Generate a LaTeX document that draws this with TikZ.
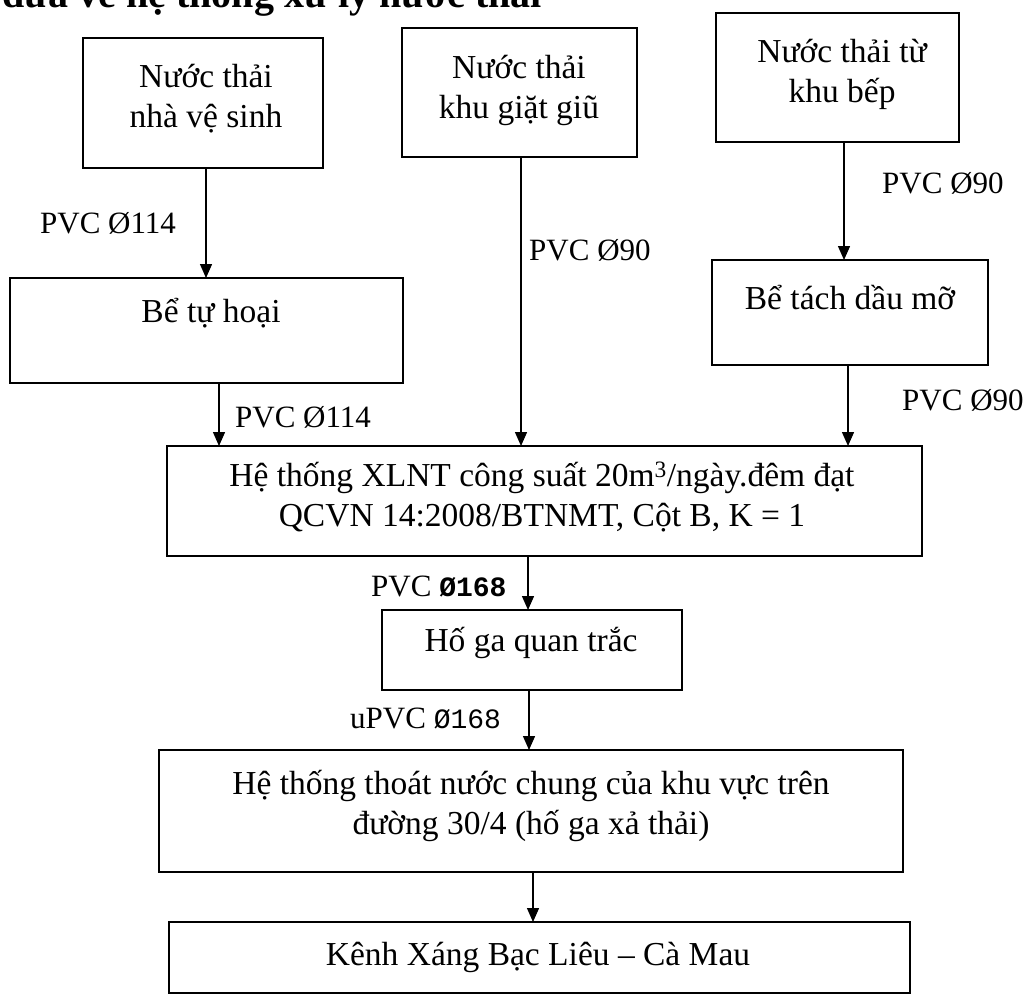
\documentclass[tikz,border=0pt]{standalone}
\usepackage{fontspec}
\setmainfont{Liberation Serif}
\newfontfamily\monof{Liberation Mono}
\usetikzlibrary{arrows.meta}
\begin{document}
\begin{tikzpicture}[x=1pt,y=-1pt,
  box/.style={draw, line width=2.2pt, inner sep=0pt, outer sep=0pt},
  txt/.style={font=\fontsize{33.5}{40}\selectfont, align=center, inner sep=0pt},
  lbl/.style={font=\fontsize{31}{36}\selectfont, inner sep=0pt, anchor=west},
  flow/.style={line width=1.4pt, -{Triangle[length=14pt,width=12pt]}}]
\useasboundingbox (0,0) rectangle (1024,1001);
\clip (0,0) rectangle (1024,1001);
\node[anchor=base west, inner sep=0pt, font=\fontsize{40}{44}\selectfont\bfseries] (head) at (2,8) {đưa về hệ thống xử lý nước thải};

% boxes
\node[box, minimum width=240, minimum height=130] (b1) at (203,103) {};
\node[box, minimum width=235, minimum height=129] (b2) at (519.5,92.5) {};
\node[box, minimum width=243, minimum height=129] (b3) at (837.5,77.5) {};
\node[box, minimum width=393, minimum height=105] (bt) at (206.5,330.5) {};
\node[box, minimum width=276, minimum height=105] (bd) at (850,312.5) {};
\node[box, minimum width=755, minimum height=110] (xl) at (544.5,501) {};
\node[box, minimum width=300, minimum height=80] (hg) at (532,650) {};
\node[box, minimum width=744, minimum height=122] (tn) at (531,811) {};
\node[box, minimum width=741, minimum height=71] (kx) at (539.5,957.5) {};

% texts
\node[txt] (t1) at (206,99) {Nước thải\\nhà vệ sinh};
\node[txt] (t2) at (519,90) {Nước thải\\khu giặt giũ};
\node[txt] (t3) at (842,74) {Nước thải từ\\khu bếp};
\node[txt] (tt) at (211,313) {Bể tự hoại};
\node[txt] (td) at (850,298) {Bể tách dầu mỡ};
\node[txt] (tx) at (542,497) {Hệ thống XLNT công suất 20m\textsuperscript{3}/ngày.đêm đạt\\QCVN 14:2008/BTNMT, Cột B, K = 1};
\node[txt] (th) at (531,643) {Hố ga quan trắc};
\node[txt] (tw) at (531,806) {Hệ thống thoát nước chung của khu vực trên\\đường 30/4 (hố ga xả thải)};
\node[txt] (tk) at (538,957) {Kênh Xáng Bạc Liêu – Cà Mau};

% connectors
\draw[flow] ([xshift=3]b1.south) -- ([xshift=3]b1.south |- bt.north);
\draw[flow] ([xshift=1.5]b2.south) -- ([xshift=1.5]b2.south |- xl.north);
\draw[flow] ([xshift=6.5]b3.south) -- ([xshift=6.5]b3.south |- bd.north);
\draw[flow] ([xshift=12.5]bt.south) -- ([xshift=12.5]bt.south |- xl.north);
\draw[flow] ([xshift=-2]bd.south) -- ([xshift=-2]bd.south |- xl.north);
\draw[flow] ([xshift=-16.5]xl.south) -- ([xshift=-16.5]xl.south |- hg.north);
\draw[flow] ([xshift=-3]hg.south) -- ([xshift=-3]hg.south |- tn.north);
\draw[flow] ([xshift=2]tn.south) -- ([xshift=2]tn.south |- kx.north);

% labels
\node[lbl] (l1) at (40,223) {PVC Ø114};
\node[lbl] (l2) at (529,250) {PVC Ø90};
\node[lbl] (l3) at (882,183) {PVC Ø90};
\node[lbl] (l4) at (235,417) {PVC Ø114};
\node[lbl] (l5) at (902,400) {PVC Ø90};
\node[lbl] (l6) at (371,587) {PVC {\monof\bfseries\fontsize{28}{32}\selectfont Ø168}};
\node[lbl] (l7) at (350,718) {uPVC {\monof\fontsize{28}{32}\selectfont Ø168}};
\end{tikzpicture}
\end{document}
